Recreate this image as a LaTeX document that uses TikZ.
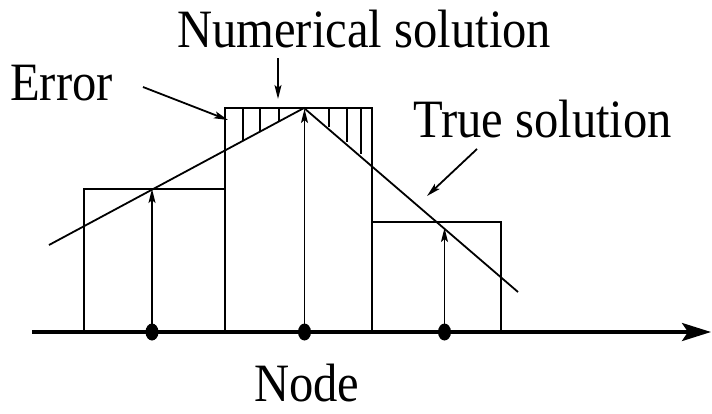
\documentclass[tikz,border=0pt]{standalone}
\usepackage{fontspec}
\setmainfont{Liberation Serif}[FakeStretch=0.9]
\usetikzlibrary{arrows.meta,shapes.geometric}
\begin{document}
\begin{tikzpicture}[x=1pt,y=-1pt,
  thinline/.style={line width=1.8pt},
  lbl/.style={inner sep=0pt,anchor=base west,text depth=0pt,font=\fontsize{54}{54}\selectfont},
  note/.style={thinline,-{Stealth[length=14pt,width=7pt,inset=3pt]}},
  up/.style={thinline,-{Stealth[length=14pt,width=7pt,inset=3pt]}},
  dot/.style={ellipse,fill=black,inner sep=0pt,minimum width=13pt,minimum height=17pt}]
\useasboundingbox (0,0) rectangle (712,413);
% boxes
\draw[thinline] (84,332) -- (84,189) -- (225,189) -- (225,332);
\draw[thinline] (225,332) -- (225,108) -- (372,108) -- (372,332);
\draw[thinline] (372,332) -- (372,222) -- (501,222) -- (501,332);
% hatches
\foreach \x/\y in {243/140, 260/131, 279/121, 329/127, 347/142, 361/154}
  \draw[thinline] (\x,108) -- (\x,\y);
% true solution
\coordinate (ls) at (49,245);
\coordinate (apex) at (304,108);
\coordinate (le) at (518,292);
\draw[thinline] (ls) -- (apex) -- (le);
% axis
\coordinate (ax0) at (32,332);
\coordinate (ax1) at (711,332);
\draw[line width=3.5pt,-{Stealth[length=29pt,width=18pt,inset=6pt]}] (ax0) -- (ax1);
% nodes and up arrows
\node[dot] (d1) at (152,332) {};
\node[dot] (d2) at (304.5,332) {};
\node[dot] (d3) at (444.5,332) {};
\coordinate (t1) at (152,189);
\coordinate (t2) at (304.5,109);
\coordinate (t3) at (444.5,228);
\draw[up] (d1.center) -- (t1);
\draw[up] (d2.center) -- (t2);
\draw[up] (d3.center) -- (t3);
% labels
\node[lbl] (num) at (177,47) {Numerical solution};
\node[lbl] (err) at (10,100) {Error};
\node[lbl] (tru) at (413,137) {True solution};
\node[lbl] (nod) at (254,401) {Node};
% annotation arrows
\coordinate (n0) at (278,58);
\coordinate (n1) at (278,99);
\coordinate (e0) at (143,87);
\coordinate (e1) at (228,120);
\coordinate (r0) at (477,149);
\coordinate (r1) at (427,196);
\draw[note] (n0) -- (n1);
\draw[note] (e0) -- (e1);
\draw[note] (r0) -- (r1);
\end{tikzpicture}
\end{document}
